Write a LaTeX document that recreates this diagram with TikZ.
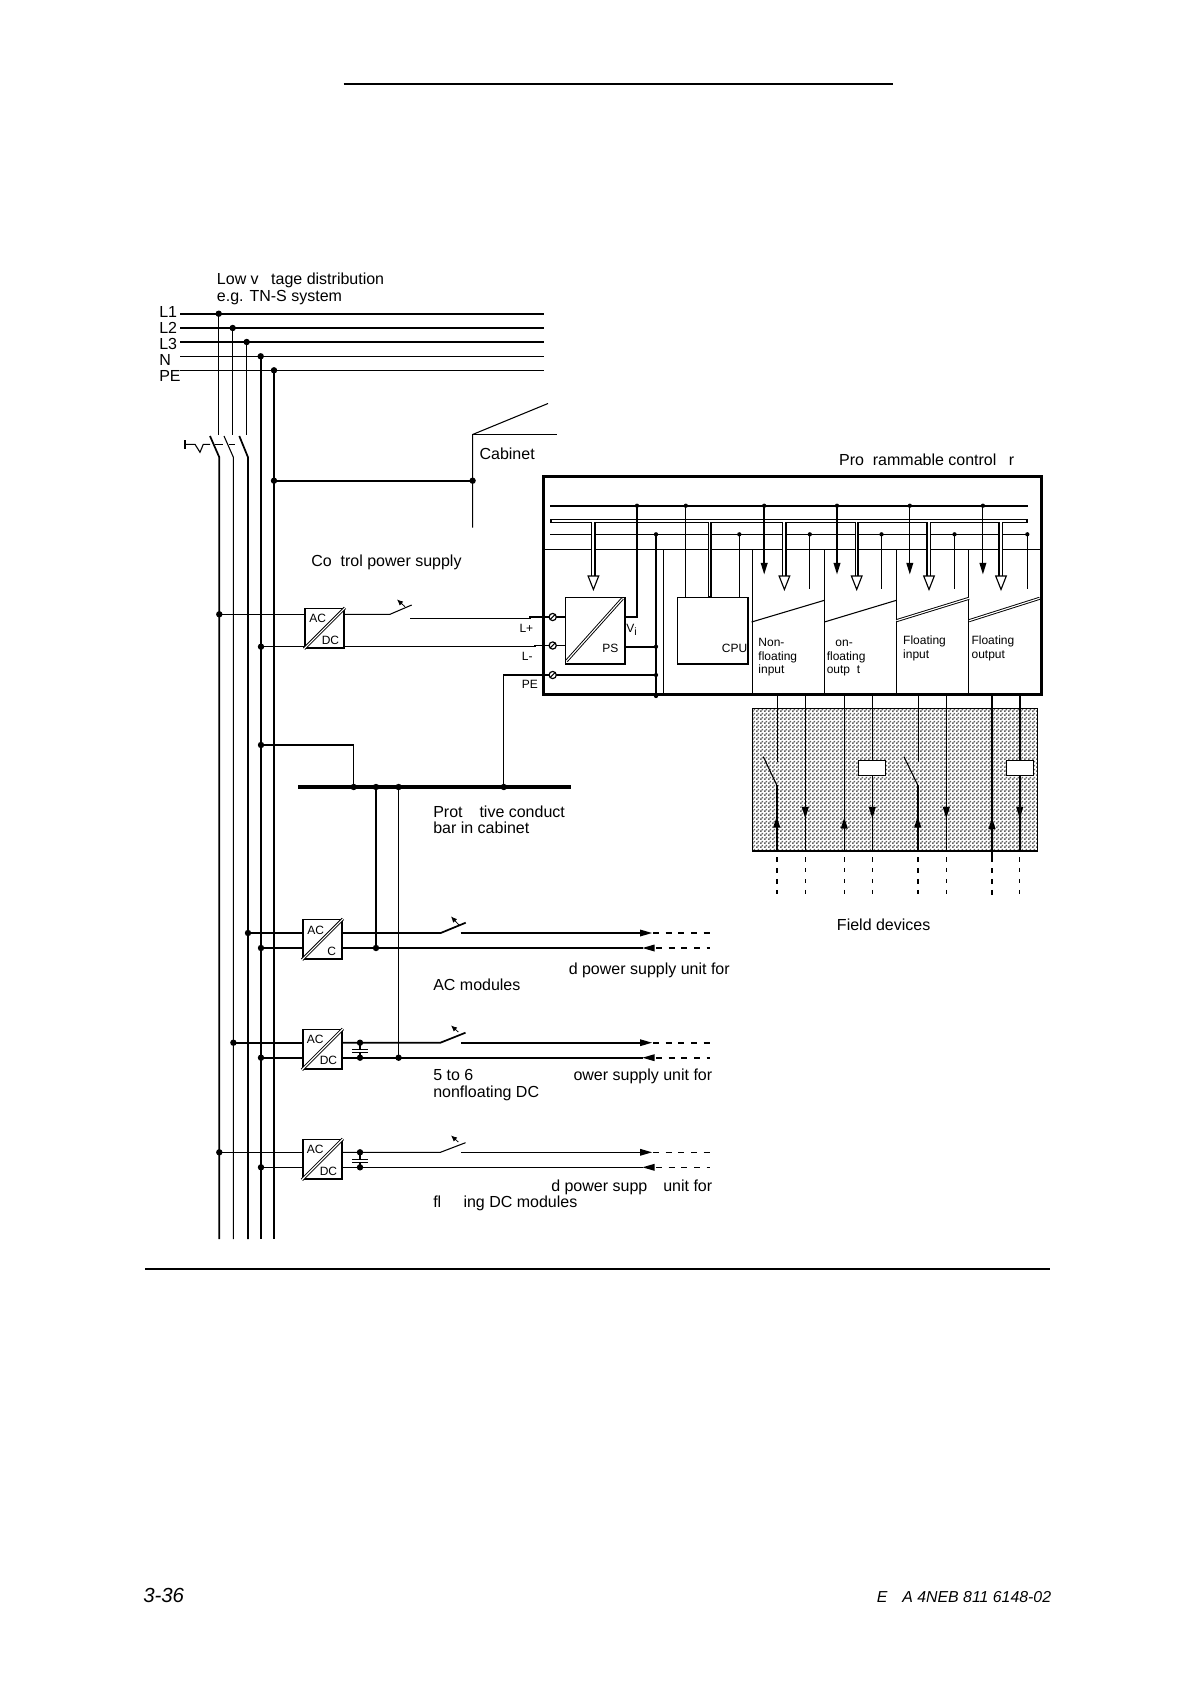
\documentclass[tikz,border=0pt]{standalone}
\usepackage{fontspec}
\setmainfont{Liberation Sans}
\usetikzlibrary{arrows.meta,patterns}
\pgfdeclarepatternformonly{checker}{\pgfqpoint{0pt}{0pt}}{\pgfqpoint{3pt}{3pt}}{\pgfqpoint{3pt}{3pt}}{%
  \pgfpathrectangle{\pgfpointorigin}{\pgfqpoint{1.5pt}{1.5pt}}%
  \pgfpathrectangle{\pgfqpoint{1.5pt}{1.5pt}}{\pgfqpoint{1.5pt}{1.5pt}}%
  \pgfusepath{fill}}
\tikzset{
  hv/.style={line width=1.3pt},
  lt/.style={line width=.8pt},
  hair/.style={line width=.65pt},
  dbl/.style={double,double distance=.85pt,line width=.7pt},
  conv/.style={draw,line width=1.2pt,minimum width=29.5pt,minimum height=29.5pt,inner sep=0,fill=white},
  lab/.style={anchor=base west,inner sep=0,font=\fontsize{12}{14}\selectfont},
  labr/.style={anchor=base east,inner sep=0,font=\fontsize{12}{14}\selectfont},
  sm/.style={anchor=base west,inner sep=0,font=\fontsize{9}{11}\selectfont},
  swarrow/.style={line width=.6pt,-{Latex[length=4.5pt,width=4pt]}},
  dh/.style={line width=1.3pt,dash pattern=on 4pt off 4.2pt},
  dl/.style={line width=.8pt,dash pattern=on 3.4pt off 4.8pt},
  rdh/.style={line width=1.3pt,dash pattern=on 4.5pt off 5pt},
  rdl/.style={line width=.8pt,dash pattern=on 4.5pt off 5pt},
}
\newcommand\bdot[2]{\fill (#1,#2) circle[radius=2.4pt];}
\newcommand\sdot[2]{\fill (#1,#2) circle[radius=1.6pt];}
\newcommand\hdown[2]{\fill ({#1-3.6},{#2-11.5})--({#1+3.6},{#2-11.5})--(#1,#2)--cycle;}
\newcommand\hup[2]{\fill ({#1-3.6},{#2+11})--({#1+3.6},{#2+11})--(#1,#2)--cycle;}
\newcommand\hright[2]{\fill ({#1-12},{#2-3.5})--({#1-12},{#2+3.5})--(#1,#2)--cycle;}
\newcommand\hleft[2]{\fill ({#1+12},{#2-3.5})--({#1+12},{#2+3.5})--(#1,#2)--cycle;}
\newcommand\hollow[2]{\draw[fill=white,line width=.85pt,line join=miter] ({#1-5.3},{#2-13.5})--({#1+5.3},{#2-13.5})--(#1,#2)--cycle;}
\newcommand\term[2]{\draw[fill=white,line width=.9pt] (#1,#2) circle[radius=2.7pt]; \draw[line width=.8pt] ({#1-2.6},{#2+2.6})--({#1+2.6},{#2-2.6});}
\begin{document}
\begin{tikzpicture}[x=.75pt,y=-.75pt]
\useasboundingbox (0,0) rectangle (1194,1684);
\fill[white] (0,0) rectangle (1194,1684);
% page rules
\draw[hv] (343.7,84)--(892.8,84);
\draw[hv] (145,1268.8)--(1050,1268.8);
% supply lines
\draw[hv] (180,313.7)--(544,313.7);
\draw[hv] (180,328)--(544,328);
\draw[hv] (180,342)--(544,342);
\draw[lt] (180,356.3)--(544,356.3);
\draw[lt] (180,370.3)--(544,370.3);
\node[lab] (tL1) at (159,317.3) {L1};
\node[lab] (tL2) at (159,333) {L2};
\node[lab] (tL3) at (159,349) {L3};
\node[lab] (tN) at (159,365.5) {N};
\node[lab] (tPE) at (159,381) {PE};
\node[lab] (tLow) at (216.7,284) {Low v\phantom{ol}tage distribution};
\node[lab] (tTN) at (216.7,301.5) {e.g. TN-S system};
% main disconnect
\draw[lt] (218.7,313.7)--(218.7,435);
\draw[lt] (232.7,328)--(232.7,435);
\draw[lt] (246.7,342)--(246.7,435);
\draw[hv] (210,436)--(219.3,457.3)--(219.3,1239);
\draw[lt] (224,436)--(233.4,457.3)--(233.4,1239);
\draw[hv] (239.3,436)--(248,457.3)--(248,1239);
\draw[hv] (260.7,356.3)--(260.7,1239);
\draw[hv] (274,370.3)--(274,1239);
\draw[hv] (185,440)--(185,448.7);
\draw[lt] (185,444.3)--(195,444.3)--(200,452.3)--(203.3,444.3)--(210,444.3);
\draw[lt] (215.3,444.3)--(222.7,444.3);
\draw[lt] (229.3,444.3)--(235,444.3);
% cabinet
\draw[lt] (472.6,527.7)--(472.6,434.5)--(548,403.5);
\draw[hv] (472.6,434.5)--(556.7,434.5);
\draw[hv] (274,480.7)--(472.6,480.7);
\node[lab] (tCab) at (479.3,459) {Cabinet};
\node[lab] (tCtl) at (311,566) {Co\phantom{n}trol power supply};
\node[lab] (tProg) at (838.8,465) {Pro\phantom{g}rammable control\phantom{le}r};
% converter 1
\node[conv] (c1) at (324.5,628.3) {};
\draw[dbl] (c1.south west)--(c1.north east);
\node[sm] (c1a) at (309,622) {AC};
\node[sm] (c1d) at (321.5,644) {DC};
\draw[lt] (219.3,614.3)--(c1.west |- 0,614.3);
\draw[lt] (c1.east |- 0,614.3)--(390,614.3)--(411.7,605);
\draw[swarrow] (405,606.7)--(397,599.5);
\draw[lt] (410,618.3)--(530,618.3)--(530,617)--(549,617);
\draw[lt] (261,646.7)--(c1.west |- 0,646.7);
\draw[lt] (c1.east |- 0,646.7)--(535,646.7)--(535,645.5)--(549,645.5);
\node[sm] (tLp) at (519.3,632.5) {L+};
\node[sm] (tLm) at (521.7,660.5) {L-};
\node[sm] (tPEb) at (521.7,688.8) {PE};
% PE bar
\draw[line width=2.7pt] (298,787)--(571,787);
\draw[lt] (261,745)--(353.7,745)--(353.7,787);
\draw[lt] (503.8,787)--(503.8,675)--(549,675);
\draw[hv] (376,787)--(376,948);
\draw[lt] (398.6,787)--(398.6,1057.7);
\node[lab] (tProt) at (433,817.3) {Prot\phantom{ec}tive conduct};
\node[lab] (tBar) at (433,833.5) {bar in cabinet};
% controller buses
\draw[line width=1.7pt] (550.2,505.7)--(1028,505.7);
\draw[lt] (550.2,534.3)--(1028,534.3);
\draw[hair] (545,549.3)--(1040,549.3);
% hollow bus with its hollow stems
\draw[line width=3.2pt] (550,520.75)--(1028,520.75);
\foreach \x/\e in {593.4/578,709.7/596.7,784.4/578,856.7/578,929/578,1001/578}
  \draw[line width=3.4pt] ({\x+.07},520.75)--({\x+.07},\e);
\foreach \x in {929,1001}
  \draw[line width=1.2pt] ({\x-1.9},521)--({\x-1.9},578);
\draw[white,line width=1pt] (552,521)--(1026,521);
\foreach \x/\e in {593.4/578,709.7/595.5,784.4/578,856.7/578,929/578,1001/578}
  \draw[white,line width=1.3pt] ({\x-.3},521)--({\x-.3},\e);
\hollow{593.4}{589.5}
\hollow{784.4}{589.5}
\hollow{856.7}{589.5}
\hollow{929}{589.5}
\hollow{1001}{589.5}
% PS
\node[conv,minimum width=44.8pt,minimum height=49.9pt,anchor=north west] (ps) at (564.7,596.7) {};
\draw[dbl] (566.5,661)--(622.5,598.5);
\node[sm] (tPS) at (602,652.3) {PS};
\node[sm] (tVi) at (626,632) {V\raisebox{-2.5pt}{\fontsize{8}{9}\selectfont i}};
\draw[hv] (ps.east |- 0,617)--(637,617)--(637,505.7);
\draw[hv] (ps.east |- 0,646.7)--(656,646.7);
\draw[hv] (549,675)--(656,675);
\draw[hv] (549,617)--(ps.west |- 0,617);
\draw[hv] (549,645.5)--(ps.west |- 0,645.5);
\term{552.7}{617}
\term{552.7}{645.5}
\term{552.7}{675}
\draw[lt] (656,534.3)--(656,695);
\draw[lt] (663.4,549.3)--(663.4,695);
% CPU
\node[conv,minimum width=53pt,minimum height=49.9pt,anchor=north west] (cpu) at (676.7,596.7) {};
\node[sm,anchor=base east] (tCPU) at (747.5,652.3) {CPU};
\draw[lt] (685.8,505.7)--(cpu.north -| 685.8,0);
\draw[lt] (739.3,534.3)--(cpu.north -| 739.3,0);
% modules
\foreach \x in {752.5,824.4,896.4,968.4} \draw[lt] (\x,549.3)--(\x,695);
\draw[lt] (751.6,622)--(824.4,600.3);
\draw[lt] (824.4,622)--(896.4,600.3);
\draw[dbl] (896.4,620.7)--(969,598.3);
\draw[dbl] (969,620.7)--(1039.6,598.3);
\draw[line width=1.7pt] (764.2,505.7)--(764.2,565);
\draw[line width=1.7pt] (837,505.7)--(837,565);
\draw[lt] (909.8,505.7)--(909.8,565);
\draw[lt] (982.9,505.7)--(982.9,565);
\hdown{764.2}{574.3}
\hdown{837}{574.3}
\hdown{909.8}{574.3}
\hdown{982.9}{574.3}
\foreach \x in {809.8,881.5,954.5,1027.3} \draw[lt] (\x,534.3)--(\x,589);
\foreach \x in {637,685.8,764.2,837,909.8,982.9} {\sdot{\x}{505.7}}
\foreach \x in {656,739.3,809.8,881.5,954.5,1027.3} {\sdot{\x}{534.3}}
\sdot{656}{646.7}
\sdot{656}{675}
\sdot{656}{696}
\node[sm] (m1a) at (758.2,646) {Non-};
\node[sm] (m1b) at (758.2,660) {floating};
\node[sm] (m1c) at (758.2,673.3) {input};
\node[sm] (m2a) at (826.5,646) {\phantom{N}on-};
\node[sm] (m2b) at (826.5,660) {floating};
\node[sm] (m2c) at (826.5,673.3) {outp\phantom{u}t};
\node[sm] (m3a) at (902.9,644) {Floating};
\node[sm] (m3b) at (902.9,658.3) {input};
\node[sm] (m4a) at (971.3,644) {Floating};
\node[sm] (m4b) at (971.3,658.3) {output};
% field devices
\draw[pattern=checker,pattern color=black!62,line width=1.1pt] (752.3,708.7) rectangle (1037.3,851);
\draw[lt] (777.3,695)--(777.3,762.3);
\draw[lt] (763.3,756.7)--(776.7,785);
\draw[hv] (776.7,785)--(776.7,852);
\draw[lt] (805.3,695)--(805.3,851);
\draw[lt] (844.3,695)--(844.3,851);
\draw[lt] (872.3,695)--(872.3,851);
\draw[lt] (918.3,695)--(918.3,762.3);
\draw[lt] (904,756.7)--(917.7,785);
\draw[hv] (917.7,785)--(917.7,852);
\draw[lt] (946.3,695)--(946.3,851);
\draw[hv] (992,695)--(992,862);
\draw[hv] (1019.7,695)--(1019.7,851);
\node[draw,fill=white,line width=1.1pt,minimum width=20.2pt,minimum height=11pt,inner sep=0] (r1) at (872.2,768) {};
\node[draw,fill=white,line width=1.1pt,minimum width=20.2pt,minimum height=11pt,inner sep=0] (r2) at (1020.2,768) {};
\hup{776.7}{816.7}
\hup{844.3}{817.7}
\hup{917.7}{816.7}
\hup{992}{818}
\hdown{805.3}{818.3}
\hdown{872.3}{818.3}
\hdown{946.3}{818.3}
\hdown{1019.7}{818.3}
\draw[dh] (776.7,857)--(776.7,894);
\draw[dh] (917.7,857)--(917.7,894);
\draw[dh] (992,868)--(992,896);
\foreach \x in {805.3,844.3,872.3,946.3,1019.7} \draw[dl] (\x,857)--(\x,896);
\node[lab] (tField) at (836.7,930) {Field devices};
% main controller frame
\draw[line width=2.5pt] (543.5,476.7) rectangle (1041.8,694.7);
% row 2
\node[conv] (c2) at (322.5,939.3) {};
\draw[dbl] (c2.south west)--(c2.north east);
\node[sm] (c2a) at (307,934) {AC};
\node[sm] (c2d) at (327,955.3) {C};
\draw[hv] (248,933)--(c2.west |- 0,933);
\draw[hv] (c2.east |- 0,933)--(440.7,933)--(465.7,922.7);
\draw[swarrow] (459,925)--(451,916.5);
\draw[hv] (460.7,933)--(640,933);
\hright{652}{933}
\draw[rdh] (653,933)--(710,933);
\draw[hv] (261,948)--(c2.west |- 0,948);
\draw[hv] (c2.east |- 0,948)--(643,948);
\hleft{642.5}{948}
\draw[rdh] (656,948)--(710,948);
\node[labr] (r2t) at (730,974) {d power supply unit for};
\node[lab] (r2b) at (433,990) {AC modules};
% row 3
\node[conv] (c3) at (322.4,1049.3) {};
\draw[dbl] (c3.south west)--(c3.north east);
\node[sm] (c3a) at (306.5,1043) {AC};
\node[sm] (c3d) at (319.5,1064) {DC};
\draw[hv] (233.4,1042.7)--(c3.west |- 0,1042.7);
\draw[hv] (c3.east |- 0,1042.7)--(440.4,1042.7)--(465.5,1032.7);
\draw[swarrow] (458.3,1032)--(451,1025.5);
\draw[hv] (461,1042.7)--(640,1042.7);
\hright{652}{1042.7}
\draw[rdh] (653,1042.7)--(710,1042.7);
\draw[hv] (261,1057.7)--(c3.west |- 0,1057.7);
\draw[hv] (c3.east |- 0,1057.7)--(643,1057.7);
\hleft{642.5}{1057.7}
\draw[rdh] (656,1057.7)--(710,1057.7);
\draw[lt] (360,1042.7)--(360,1049.3) (360,1052.7)--(360,1057.7);
\draw[hair] (352,1049.3)--(368,1049.3) (352,1052.7)--(368,1052.7);
\node[lab] (r3a) at (433,1080) {5 to 6};
\node[labr] (r3r) at (712.5,1080) {ower supply unit for};
\node[lab] (r3b) at (433,1097.5) {nonfloating DC};
% row 4
\node[conv] (c4) at (322.4,1159.3) {};
\draw[dbl] (c4.south west)--(c4.north east);
\node[sm] (c4a) at (306.5,1153) {AC};
\node[sm] (c4d) at (319.5,1175) {DC};
\draw[lt] (219.3,1152.3)--(c4.west |- 0,1152.3);
\draw[lt] (c4.east |- 0,1152.3)--(440.4,1152.3)--(465.5,1142.7);
\draw[swarrow] (458.3,1142)--(451,1135.5);
\draw[lt] (461,1152.3)--(640,1152.3);
\hright{652}{1152.3}
\draw[rdl] (653,1152.3)--(710,1152.3);
\draw[lt] (261,1167.3)--(c4.west |- 0,1167.3);
\draw[lt] (c4.east |- 0,1167.3)--(643,1167.3);
\hleft{642.5}{1167.3}
\draw[rdl] (656,1167.3)--(710,1167.3);
\draw[lt] (360,1152.3)--(360,1159) (360,1162.3)--(360,1167.3);
\draw[hair] (352,1159)--(368,1159) (352,1162.3)--(368,1162.3);
\node[labr] (r4r) at (712.5,1191) {d power supp\phantom{ly} unit for};
\node[lab] (r4b) at (433,1207) {fl\phantom{oat}ing DC modules};
% junction dots
\foreach \x/\y in {218.7/313.7,232.7/328,246.7/342,260.7/356.3,274/370.3,274/480.7,472.6/480.7,
  219.3/614.3,261/646.7,261/745,353.7/787,376/787,398.6/787,503.8/787,
  248/933,261/948,376/948,233.4/1042.7,261/1057.7,360/1042.7,360/1057.7,398.6/1057.7,
  219.3/1152.3,261/1167.3,360/1152.3,360/1167.3} {\bdot{\x}{\y}}
% footer
\node[anchor=base west,inner sep=0,font=\fontsize{15.3}{18}\selectfont\itshape] (fl) at (143,1602) {3-36};
\node[anchor=base east,inner sep=0,font=\fontsize{11.9}{14}\selectfont\itshape] (fr) at (1051.4,1602) {E\phantom{W}A 4NEB 811 6148-02};
\end{tikzpicture}
\end{document}
